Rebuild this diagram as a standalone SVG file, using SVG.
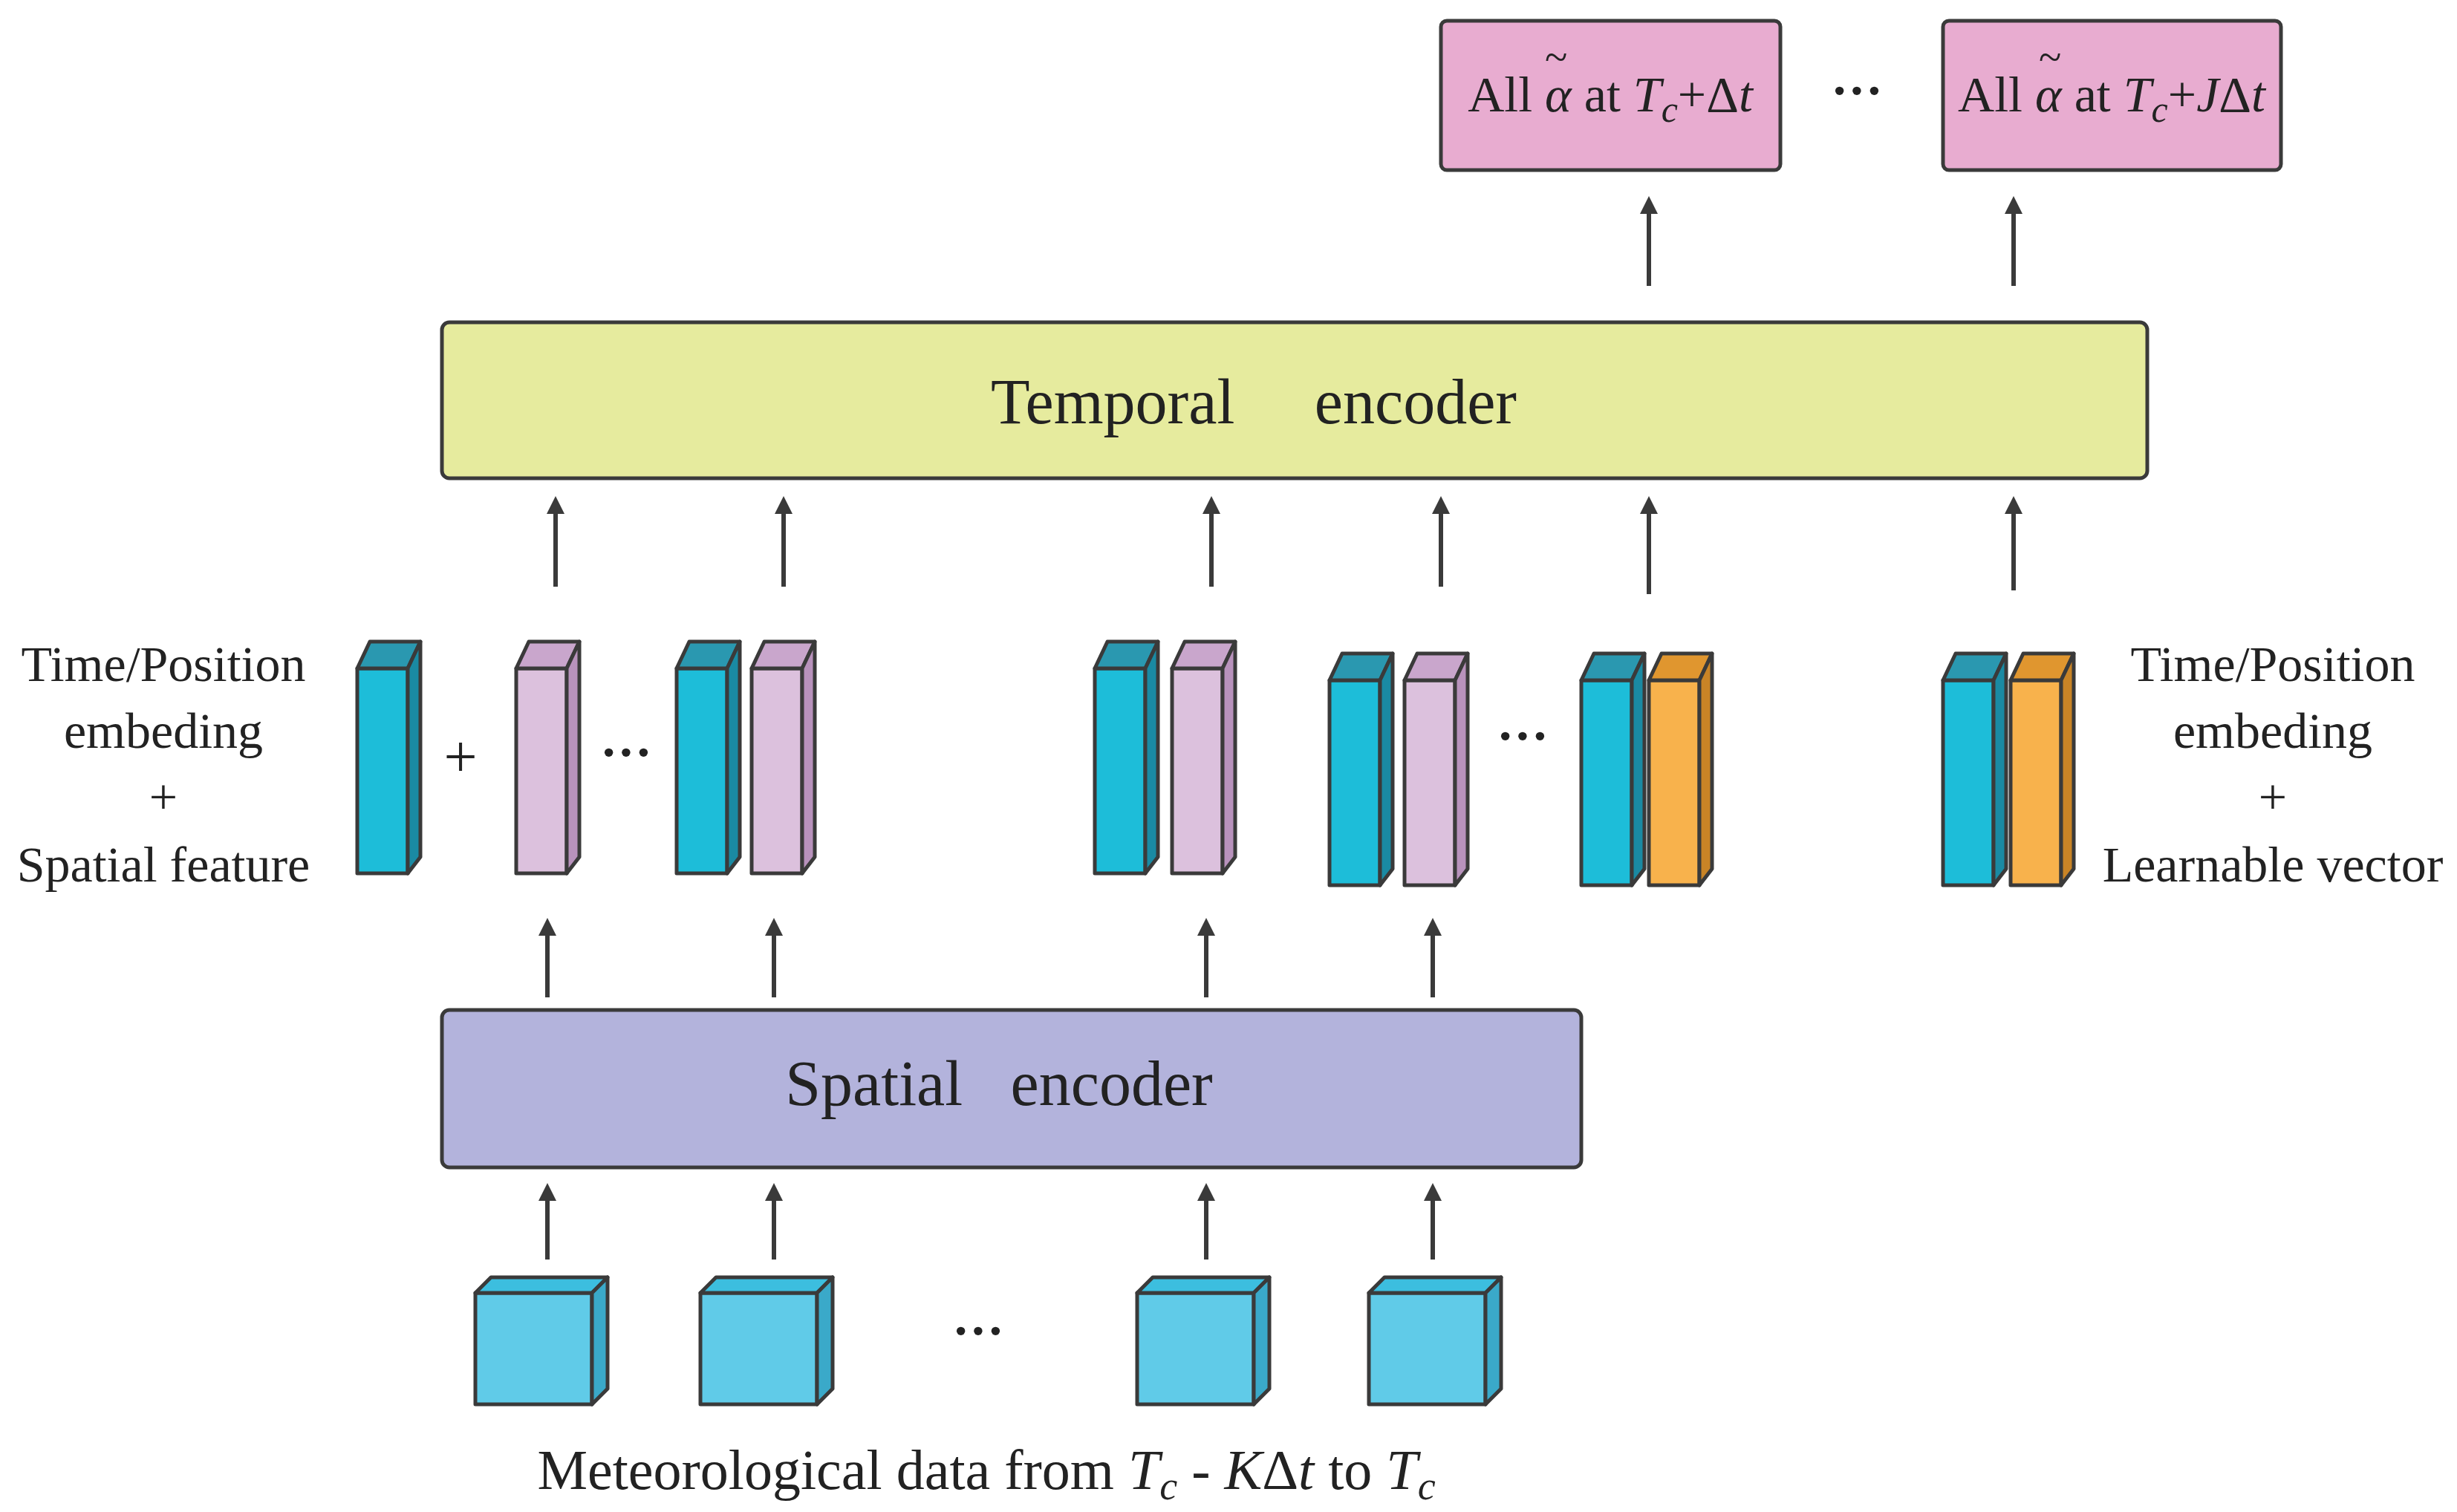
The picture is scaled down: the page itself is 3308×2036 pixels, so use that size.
<svg xmlns="http://www.w3.org/2000/svg" width="3308" height="2036" viewBox="0 0 3308 2036">
<style>
text{font-family:"Liberation Serif","Times New Roman","DejaVu Serif",serif;fill:#222}
.s{stroke:#3a3a3a;stroke-width:5;stroke-linejoin:round}
.f{fill:var(--f)}.t{fill:var(--t)}.d{fill:var(--d)}
.c{--f:#1dbdd9;--t:#2a98b0;--d:#1a8aa3}
.p{--f:#dcc1dd;--t:#c9a6cc;--d:#b892bc}
.o{--f:#f8b24c;--t:#e0962f;--d:#c98426}
.cube{--f:#60cbe8;--t:#3cbedf;--d:#3aa9c9}
.lab{font-size:68px;text-anchor:middle}
.ar{stroke:#3a3a3a;stroke-width:6;marker-end:url(#ah)}
</style>
<defs>
<marker id="ah" markerWidth="4" markerHeight="4" refX="2" refY="2" orient="auto" markerUnits="strokeWidth" viewBox="0 0 4 4"><path d="M0,0 L4,2 L0,4 z" fill="#3a3a3a"/></marker>
<g id="vec">
<rect class="s f" x="0" y="36" width="68" height="276"/>
<path class="s t" d="M0,36 L17,0 L85,0 L68,36 z"/>
<path class="s d" d="M68,36 L85,0 L85,290 L68,312 z"/>
</g>
<g id="cube">
<rect class="s f" x="0" y="21" width="157" height="150"/>
<path class="s t" d="M0,21 L21,0 L178,0 L157,21 z"/>
<path class="s d" d="M157,21 L178,0 L178,150 L157,171 z"/>
</g>
</defs>
<rect width="3308" height="2036" fill="#fff"/>

<g id="out1"><rect class="s" x="1940" y="28" width="457" height="201" rx="8" fill="#e8acd0"/>
<text x="2168" y="150" font-size="68" text-anchor="middle">All <tspan font-style="italic">α</tspan> at <tspan font-style="italic">T</tspan><tspan font-style="italic" font-size="50" dy="14">c</tspan><tspan dy="-14">+Δ</tspan><tspan font-style="italic">t</tspan></text>
<text x="2080" y="96" font-size="56">~</text></g>
<text x="2500" y="145" font-size="70" text-anchor="middle" font-weight="bold">···</text>
<g id="out2"><rect class="s" x="2616" y="28" width="455" height="201" rx="8" fill="#e8acd0"/>
<text x="2843" y="150" font-size="68" text-anchor="middle">All <tspan font-style="italic">α</tspan> at <tspan font-style="italic">T</tspan><tspan font-style="italic" font-size="50" dy="14">c</tspan><tspan dy="-14">+</tspan><tspan font-style="italic">J</tspan>Δ<tspan font-style="italic">t</tspan></text>
<text x="2745" y="96" font-size="56">~</text></g>

<g id="temporal"><rect class="s" x="595" y="434" width="2296" height="210" rx="10" fill="#e6eb9e"/>
<text x="1688" y="570" font-size="86" text-anchor="middle" xml:space="preserve">Temporal     encoder</text></g>

<g id="spatial"><rect class="s" x="595" y="1360" width="1534" height="212" rx="10" fill="#b3b3dc"/>
<text x="1345" y="1488" font-size="86" text-anchor="middle" xml:space="preserve">Spatial   encoder</text></g>

<g id="vectors">
<use href="#vec" class="c" x="481" y="864"/>
<use href="#vec" class="p" x="695" y="864"/>
<use href="#vec" class="c" x="911" y="864"/>
<use href="#vec" class="p" x="1012" y="864"/>
<use href="#vec" class="c" x="1474" y="864"/>
<use href="#vec" class="p" x="1578" y="864"/>
<use href="#vec" class="c" x="1790" y="880"/>
<use href="#vec" class="p" x="1891" y="880"/>
<use href="#vec" class="c" x="2129" y="880"/>
<use href="#vec" class="o" x="2220" y="880"/>
<use href="#vec" class="c" x="2616" y="880"/>
<use href="#vec" class="o" x="2707" y="880"/>
<text x="620" y="1046" font-size="80" text-anchor="middle">+</text>
<text x="843" y="1036" font-size="70" text-anchor="middle" font-weight="bold">···</text>
<text x="2050" y="1014" font-size="70" text-anchor="middle" font-weight="bold">···</text>
</g>

<g id="inputs">
<use href="#cube" class="cube" x="640" y="1720"/>
<use href="#cube" class="cube" x="943" y="1720"/>
<use href="#cube" class="cube" x="1531" y="1720"/>
<use href="#cube" class="cube" x="1843" y="1720"/>
<text x="1317" y="1815" font-size="70" text-anchor="middle" font-weight="bold">···</text>
</g>

<g id="labels">
<text class="lab" x="220" y="917">Time/Position</text>
<text class="lab" x="220" y="1007">embeding</text>
<text class="lab" x="220" y="1096">+</text>
<text class="lab" x="220" y="1187">Spatial feature</text>
<text class="lab" x="3060" y="917">Time/Position</text>
<text class="lab" x="3060" y="1007">embeding</text>
<text class="lab" x="3060" y="1096">+</text>
<text class="lab" x="3060" y="1187">Learnable vector</text>
<text class="lab" x="1328" y="2005" style="font-size:76px">Meteorological data from <tspan font-style="italic">T</tspan><tspan font-style="italic" font-size="54" dy="14">c</tspan><tspan dy="-14"> - </tspan><tspan font-style="italic">K</tspan>Δ<tspan font-style="italic">t</tspan> to <tspan font-style="italic">T</tspan><tspan font-style="italic" font-size="54" dy="14">c</tspan></text>
</g>

<g id="connectors">
<line class="ar" x1="737" y1="1696" x2="737" y2="1605"/>
<line class="ar" x1="1042" y1="1696" x2="1042" y2="1605"/>
<line class="ar" x1="1624" y1="1696" x2="1624" y2="1605"/>
<line class="ar" x1="1929" y1="1696" x2="1929" y2="1605"/>
<line class="ar" x1="737" y1="1343" x2="737" y2="1248"/>
<line class="ar" x1="1042" y1="1343" x2="1042" y2="1248"/>
<line class="ar" x1="1624" y1="1343" x2="1624" y2="1248"/>
<line class="ar" x1="1929" y1="1343" x2="1929" y2="1248"/>
<line class="ar" x1="748" y1="790" x2="748" y2="680"/>
<line class="ar" x1="1055" y1="790" x2="1055" y2="680"/>
<line class="ar" x1="1631" y1="790" x2="1631" y2="680"/>
<line class="ar" x1="1940" y1="790" x2="1940" y2="680"/>
<line class="ar" x1="2220" y1="800" x2="2220" y2="680"/>
<line class="ar" x1="2711" y1="795" x2="2711" y2="680"/>
<line class="ar" x1="2220" y1="385" x2="2220" y2="276"/>
<line class="ar" x1="2711" y1="385" x2="2711" y2="276"/>
</g>
</svg>
